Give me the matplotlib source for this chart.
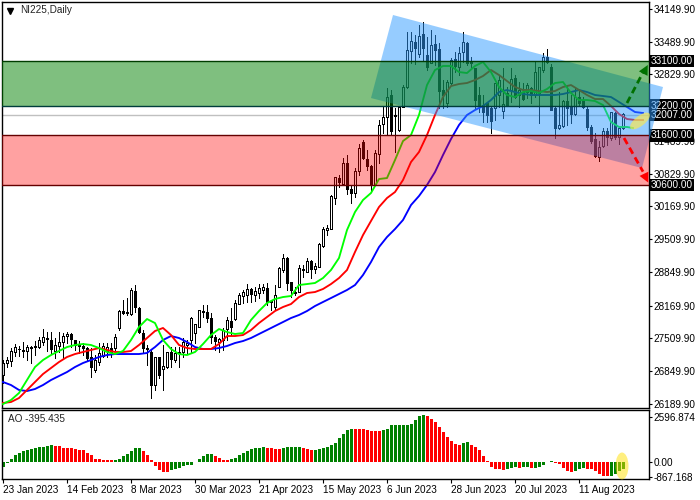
import matplotlib
matplotlib.use('Agg')
import matplotlib.pyplot as plt
from matplotlib.patches import Ellipse, Polygon
import numpy as np

plt.rcParams['font.family'] = ['Liberation Sans', 'DejaVu Sans']

# candles
open_ = [26770,27012,27052,27234,27294,27254,27254,27315,27335,27335,27435,27516,27476,27254,27355,27435,27556,27597,27476,27375,
         27355,27315,27133,26871,27032,27153,27254,27315,27315,27717,28060,28040,28000,28464,28121,27617,27315,27234,26569,27133,
         26891,26931,27234,27072,27214,27234,27375,27476,27617,27738,28060,28040,27919,27536,27435,27476,27697,27859,27899,28201,
         28363,28383,28504,28383,28423,28484,28524,28262,28141,28544,28887,29129,28645,28443,28443,28907,28846,29068,28907,28947,
         29371,29693,29713,30338,30742,30621,31044,30520,30439,30883,31467,31125,30983,30600,31225,31830,31971,32415,31991,31709,
         32173,32576,33302,33483,33241,33645,33221,33060,33443,33342,32516,32254,32657,33140,32979,33282,33463,33080,32959,32415,
         32213,32254,32153,32153,32415,32092,32455,32516,32758,32415,32475,32475,32556,32415,32455,32919,33181,32979,32153,31749,
         31790,32294,32173,32032,32374,32314,32133,31770,31528,31165,31387,31689,31548,32052,31568,31749]
high = [27072,27133,27314,27395,27355,27435,27375,27355,27455,27536,27697,27637,27637,27516,27637,27617,27637,27617,27476,27455,
        27415,27335,27315,27173,27415,27415,27415,27415,27597,28080,28282,28322,28524,28584,28141,27677,27375,27274,27133,27133,
        27375,27234,27335,27335,27335,27516,27476,27939,27798,28080,28181,28181,28020,27576,27516,27717,27939,28121,28282,28423,
        28484,28604,28524,28544,28604,28604,28625,28282,28584,28947,29209,29149,28645,28544,28988,28988,29129,29088,29028,29431,
        29754,29794,30399,30762,30802,31145,31205,30600,30943,31427,31508,31306,31004,31306,31911,32173,32556,32516,32153,32173,
        32617,33685,33685,33624,33826,33886,33584,33725,33624,33463,32717,32717,33161,33282,33383,33685,33483,33181,32959,32576,
        32415,32274,32173,32657,32818,32959,32576,32959,32818,32677,32657,32657,32576,33080,32979,33262,33342,33040,32173,32475,
        32314,32616,32415,32556,32516,32374,32173,31810,31649,31487,31749,31749,32072,32072,31770,32052]
low = [26609,26931,26951,27153,27153,27133,27072,27012,27173,27315,27375,27254,27193,27113,27234,27113,27415,27335,27274,27214,
       27173,27072,26730,26831,26972,27133,27133,27133,27274,27677,28000,27980,27980,28040,27617,27234,26972,26306,26468,26710,
       26468,26911,26931,27032,26931,27133,27214,27214,27415,27738,27939,27838,27415,27274,27234,27274,27476,27576,27879,28201,
       28221,28242,28242,28262,28322,28423,28181,28080,28080,28544,28846,28484,28342,28383,28443,28746,28846,28726,28826,28947,
       29351,29592,29713,30217,30560,30600,30419,30237,30358,30802,31125,30903,30500,30600,31044,31649,31608,31608,31266,31689,
       32173,32556,33060,33040,33181,33120,32919,33060,33020,32153,32153,32173,32637,32879,32818,33080,33020,32979,32153,32072,
       31870,31870,31649,31911,32173,31951,32213,32274,32354,32173,32314,32354,32254,32374,31850,32878,33060,32112,31548,31729,
       31770,31810,31850,32011,32213,32153,31709,31447,31165,31084,31366,31407,31508,31528,31427,31729]
close = [27012,27072,27254,27335,27304,27274,27335,27335,27355,27476,27536,27496,27294,27375,27435,27556,27597,27496,27375,27355,
         27315,27113,26931,27072,27214,27355,27335,27234,27536,28060,28020,28020,28484,28141,27637,27315,27294,26569,27133,26770,
         26951,27234,27092,27214,27234,27435,27415,27919,27798,28080,28040,27919,27536,27455,27496,27677,27879,27738,28221,28383,
         28443,28504,28403,28464,28524,28544,28242,28242,28383,28927,29129,28625,28484,28423,28927,28887,29068,28907,28968,29411,
         29713,29734,30379,30762,30661,31044,30520,30439,30883,31346,31145,30983,30600,31245,31810,31971,32374,31689,32011,32173,
         32576,33322,33503,33362,33604,33362,32979,33423,33322,32495,32415,32677,33120,33000,33262,33483,33060,33060,32314,32213,
         32072,32011,31891,32657,32717,32233,32213,32737,32375,32516,32334,32616,32415,32878,32979,33181,33080,32112,31749,31810,
         32294,32153,32032,32374,32254,32173,31770,31487,31185,31366,31689,31568,32072,31568,31749,32032]

# moving averages, read every 2nd bar
jaw = [26629,26568,26468,26447,26488,26568,26669,26750,26830,26931,27012,27072,27133,27173,27193,27193,27193,27193,27214,27334,
       27476,27556,27516,27435,27334,27294,27294,27314,27355,27415,27455,27516,27597,27677,27758,27838,27919,27980,28060,28161,
       28242,28322,28403,28484,28584,28786,29048,29350,29552,29713,29895,30197,30379,30600,30862,31205,31528,31810,32012,32112,
       32193,32314,32475,32516,32475,32435,32415,32415,32415,32415,32435,32475,32516,32475,32415,32395,32374,32274,32173,32072,32052]
teeth = [26206,26226,26306,26468,26629,26790,26911,27032,27133,27193,27234,27274,27314,27274,27234,27234,27254,27375,27516,27657,
         27718,27576,27375,27314,27294,27294,27294,27395,27556,27556,27576,27677,27818,27939,28060,28141,28201,28342,28423,28443,
         28504,28604,28725,28887,29250,29592,29875,30157,30338,30459,30701,31064,31266,31608,32012,32374,32596,32637,32657,32717,
         32798,32919,32818,32697,32576,32516,32516,32495,32475,32495,32576,32616,32516,32415,32334,32334,32193,32032,31931,31911,31911]
lips = [26185,26266,26407,26669,26931,27072,27173,27254,27334,27375,27395,27375,27314,27234,27193,27254,27476,27738,27899,27818,
        27476,27294,27193,27173,27234,27395,27576,27697,27637,27597,27617,27879,28060,28221,28302,28342,28363,28584,28604,28625,
        28725,28887,29129,29693,30056,30298,30439,30721,30741,31104,31487,31608,32012,32616,32919,33000,33000,32878,32858,33000,
        33080,32878,32576,32415,32374,32475,32495,32455,32536,32657,32677,32455,32314,32314,32294,32213,31870,31770,31770,31750]

ao = [-290,-50,154,384,518,614,672,749,806,845,845,902,960,902,902,806,787,787,749,710,
      672,518,384,192,154,96,96,96,134,192,326,480,614,787,787,634,384,96,-230,-460,
      -576,-576,-460,-384,-346,-230,-192,-154,-20,154,326,442,442,346,230,134,96,192,250,384,
      518,634,730,787,787,845,787,787,749,749,787,845,845,845,845,787,749,691,700,749,
      787,845,960,1114,1382,1632,1824,1920,1900,1882,1882,1824,1786,1786,1786,1824,1882,2112,2112,2112,
      2120,2130,2208,2438,2630,2688,2630,2458,2304,2016,1728,1440,1210,1018,960,1075,1133,998,883,672,
      326,77,-307,-403,-403,-442,-430,-326,-288,-346,-288,-288,-346,-335,-288,-192,-20,77,-38,-115,
      -346,-518,-576,-518,-403,-346,-384,-384,-500,-691,-826,-826,-815,-710,-518,-395]

price_ticks = [34149.90,33489.90,32829.90,32169.90,31489.90,30829.90,30169.90,29509.90,28849.90,28169.90,27509.90,26849.90,26189.90]
date_labels = ['23 Jan 2023','14 Feb 2023','8 Mar 2023','30 Mar 2023','21 Apr 2023','15 May 2023','6 Jun 2023','28 Jun 2023','20 Jul 2023','11 Aug 2023']
tag_prices = [33100.00,32200.00,32007.00,31600.00,30600.00]
channel_i = [97.5,165,159.75,92]
channel_p = [34028,32576,30943,32354]

W, H = 700, 500
fig = plt.figure(figsize=(7,5), dpi=100)
ax = fig.add_axes([2/W, (H-408)/H, 647/W, 406/H])
ax2 = fig.add_axes([2/W, (H-479)/H, 647/W, 69/H])

n = len(close)
x = np.arange(n)
open_ = np.array(open_)
close = np.array(close)
up = close >= open_

ax.vlines(x, low, high, color='k', lw=0.72, zorder=2, antialiased=False)
ax.bar(x[up], (close-open_)[up], bottom=open_[up], width=0.5, fc='white', ec='k', lw=0.72, zorder=2.1, antialiased=False)
ax.bar(x[~up], (open_-close)[~up], bottom=close[~up], width=0.5, fc='k', ec='k', lw=0.72, zorder=2.1, antialiased=False)

# alligator lines are shifted forward so they run past the last bar
grid = np.arange(0, 162, 2)
ax.plot(grid, jaw, color='#0000ff', lw=1.35, zorder=3)
ax.plot(grid, teeth, color='#ff0000', lw=1.35, zorder=3)
ax.plot(np.r_[grid[:79], 157.5], lips, color='#00ff00', lw=1.35, zorder=3)

ax.axhline(32007, color='#c0c0c0', lw=1, zorder=1)

# channel goes over the price scale, zones go over the channel
ax.add_patch(Polygon(np.column_stack([channel_i, channel_p]), closed=True, fc='#2f9bff', ec='none', alpha=0.5, zorder=5, clip_on=False))
ax.axhspan(32200, 33100, fc='#008000', ec='none', alpha=0.5, zorder=6)
ax.axhspan(30600, 31600, fc='#ff0000', ec='none', alpha=0.37, zorder=6)
ax.axhline(33100, color='#003c00', lw=1, zorder=6.1)
ax.axhline(32200, color='#003c3c', lw=1, zorder=6.1)
ax.axhline(31600, color='#640000', lw=1, zorder=6.1)
ax.axhline(30600, color='#640000', lw=1, zorder=6.1)

# forecast arrows
ax.plot([156,160], [32254,32870], color='#007000', lw=2.0, ls=(0,(2.5,1.5)), zorder=7)
ax.annotate('', xy=(161.2,33020), xytext=(159.5,32760), zorder=7,
            arrowprops=dict(arrowstyle='-|>,head_width=0.35,head_length=0.7', color='#007000', lw=0, shrinkA=0, shrinkB=0))
ax.plot([155.25,160], [31548,30870], color='#ff0000', lw=2.0, ls=(0,(2.5,1.5)), zorder=7)
ax.annotate('', xy=(161.3,30650), xytext=(159.5,30950), zorder=7,
            arrowprops=dict(arrowstyle='-|>,head_width=0.35,head_length=0.7', color='#ff0000', lw=0, shrinkA=0, shrinkB=0))

ax.set_xlim(-0.25, 161.5)
ax.set_ylim(26105, 34290)
ax.set_xticks([])
ax.yaxis.tick_right()
ax.set_yticks(price_ticks)
# 32169.90 sits behind the 32200 tag
ax.set_yticklabels(['' if p == 32169.90 else '%.2f' % p for p in price_ticks], fontsize=7.2)
ax.tick_params(axis='y', length=2.5, width=0.8, pad=1)
for s in ax.spines.values():
    s.set_linewidth(1)

for p in tag_prices:
    ax.text(1.0025, p, '%.2f' % p, transform=ax.get_yaxis_transform(), color='white', fontsize=7.2, va='center', ha='left',
            bbox=dict(boxstyle='square,pad=0.12', fc='k', ec='none'), zorder=3, clip_on=False)

ax.text(18/647, 1-8/406, 'NI225,Daily', transform=ax.transAxes, fontsize=7.2, va='center', color='#222222')
ax.plot([0.012], [1-9/406], marker='v', ms=4.5, color='k', transform=ax.transAxes)

# awesome oscillator, green when rising and red when falling
ao = np.array(ao)
colors = []
cur = '#008000'
for i in range(n):
    if i > 0 and ao[i] > ao[i-1]:
        cur = '#008000'
    elif i > 0 and ao[i] < ao[i-1]:
        cur = '#ff0000'
    colors.append(cur)
ax2.bar(x, ao, width=0.75, color=colors, lw=0, zorder=2, antialiased=False)
ax2.set_xlim(-0.25, 161.5)
ax2.set_ylim(-981, 3000)
ax2.yaxis.tick_right()
ax2.set_yticks([2596.874, 0, -867.168])
ax2.set_yticklabels(['2596.874','0.00','-867.168'], fontsize=7.2)
ax2.set_xticks(np.arange(0, 160, 16))
ax2.set_xticklabels(date_labels, fontsize=7.2, ha='left')
ax2.tick_params(axis='y', length=2.5, width=0.8, pad=1)
ax2.tick_params(axis='x', length=3, width=0.8, pad=1)
for s in ax2.spines.values():
    s.set_linewidth(1)
ax2.text(6/647, 1-9/69, 'AO -395.435', transform=ax2.transAxes, fontsize=7.2, va='center', color='#222222')

# highlight spots on the last bar, placed in inches so they stay round
fig.add_artist(Ellipse((6.40, (H-121)/100), 0.24, 0.10, angle=38, fc='#ffe94a', ec='none', alpha=0.65, transform=fig.dpi_scale_trans, zorder=8))
fig.add_artist(Ellipse((6.22, (H-466)/100), 0.13, 0.27, fc='#ffe000', ec='none', alpha=0.5, transform=fig.dpi_scale_trans, zorder=8))

fig.savefig('out.png', dpi=100)
